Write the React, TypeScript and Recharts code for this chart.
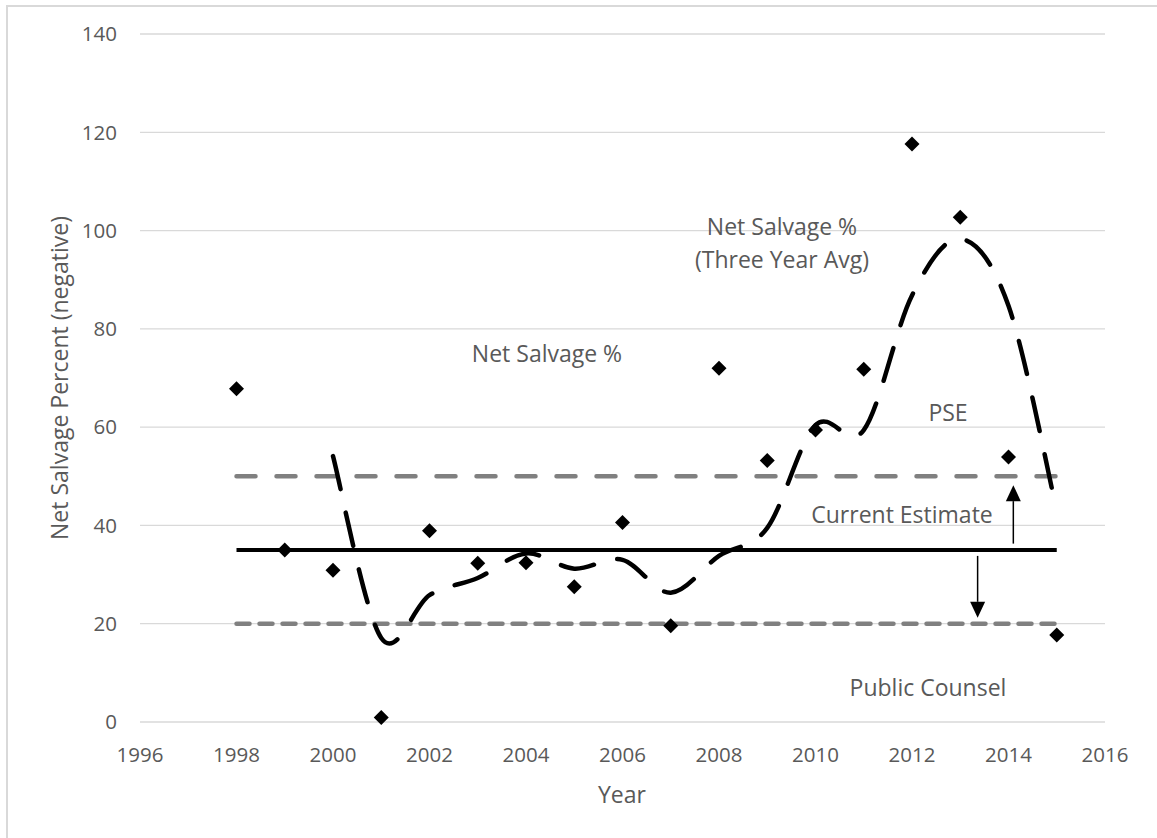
import {
  CartesianGrid,
  ComposedChart,
  Line,
  ReferenceLine,
  Scatter,
  XAxis,
  YAxis,
} from 'recharts'
import type { CSSProperties } from 'react'

// values
const years = [
  1998, 1999, 2000, 2001, 2002, 2003, 2004, 2005, 2006, 2007, 2008, 2009,
  2010, 2011, 2012, 2013, 2014, 2015,
]
const netSalvagePct = [
  67.8, 35.0, 30.9, 0.9, 38.9, 32.3, 32.4, 27.5, 40.6, 19.6, 72.0, 53.2, 59.4,
  71.8, 117.6, 102.7, 53.9, 17.7,
]
const threeYearAvg = [
  null, null, 54.1, 17.1, 25.8, 29.3, 34.3, 31.2, 33.0, 26.3, 33.8, 39.5, 60.4,
  59.4, 86.8, 98.3, 84.7, 43.0,
]
const currentEstimate = 35
const pseEstimate = 50
const publicCounselEstimate = 20

const xTicks = [1996, 1998, 2000, 2002, 2004, 2006, 2008, 2010, 2012, 2014, 2016]
const yTicks = [0, 20, 40, 60, 80, 100, 120, 140]

// arrows from the current estimate towards the two proposals
const arrowToPse = [
  { x: 2014.1, y: 36.3 },
  { x: 2014.1, y: 48.2 },
]
const arrowToPublicCounsel = [
  { x: 2013.36, y: 33.8 },
  { x: 2013.36, y: 21.2 },
]

const rows = years.map((year, i) => ({
  year,
  pct: netSalvagePct[i],
  avg: threeYearAvg[i],
  current: currentEstimate,
  pse: pseEstimate,
  pc: publicCounselEstimate,
}))

const FONT = '"Open Sans", "Noto Sans", sans-serif'
const TEXT = '#595959'
const GRID = '#d9d9d9'

// Excel style smoothed line: Catmull-Rom through every point
function smoothCurve(context: any) {
  let pts: number[][] = []
  return {
    areaStart() {},
    areaEnd() {},
    lineStart() {
      pts = []
    },
    lineEnd() {
      const n = pts.length
      if (!n) return
      context.moveTo(pts[0][0], pts[0][1])
      for (let i = 0; i < n - 1; i++) {
        const p0 = pts[Math.max(i - 1, 0)]
        const p1 = pts[i]
        const p2 = pts[i + 1]
        const p3 = pts[Math.min(i + 2, n - 1)]
        context.bezierCurveTo(
          p1[0] + (p2[0] - p0[0]) / 6,
          p1[1] + (p2[1] - p0[1]) / 6,
          p2[0] - (p3[0] - p1[0]) / 6,
          p2[1] - (p3[1] - p1[1]) / 6,
          p2[0],
          p2[1],
        )
      }
    },
    point(x: number, y: number) {
      pts.push([+x, +y])
    },
  }
}

function Diamond(props: any) {
  const { cx, cy } = props
  if (cx == null || cy == null) return null
  const r = 7.5
  return (
    <polygon
      points={`${cx},${cy - r} ${cx + r},${cy} ${cx},${cy + r} ${cx - r},${cy}`}
      fill="#000"
    />
  )
}

function Arrow(props: any) {
  const { x1, y1, x2, y2 } = props
  const dir = y2 < y1 ? -1 : 1
  const head = 16
  const half = 7.5
  const baseY = y2 - dir * head
  return (
    <g>
      <line x1={x1} y1={y1} x2={x2} y2={baseY} stroke="#000" strokeWidth={1.5} />
      <polygon
        points={`${x2},${y2} ${x2 - half},${baseY} ${x2 + half},${baseY}`}
        fill="#000"
      />
    </g>
  )
}

const note: CSSProperties = {
  position: 'absolute',
  transform: 'translate(-50%, -50%)',
  fontFamily: FONT,
  fontSize: 23,
  color: TEXT,
  whiteSpace: 'nowrap',
  textAlign: 'center',
  lineHeight: '33px',
}

export default function App() {
  return (
    <div
      style={{
        position: 'absolute',
        left: 0,
        top: 0,
        width: 1157,
        height: 838,
        background: '#fff',
        overflow: 'hidden',
      }}
    >
      <div
        style={{
          position: 'absolute',
          left: 6,
          top: 5,
          width: 1151,
          height: 833,
          borderLeft: `2px solid ${GRID}`,
          borderTop: `2px solid ${GRID}`,
          boxSizing: 'border-box',
        }}
      />
      <div style={{ position: 'absolute', left: 0, top: 0 }}>
        <ComposedChart
          width={1157}
          height={838}
          data={rows}
          margin={{ top: 34, right: 52, bottom: 56, left: 60 }}
          style={{ fontFamily: FONT }}
        >
          <CartesianGrid vertical={false} stroke={GRID} strokeWidth={1.3} />
          <XAxis
            dataKey="year"
            type="number"
            domain={[1996, 2016]}
            ticks={xTicks}
            axisLine={false}
            tickLine={false}
            tickSize={0}
            tickMargin={25}
            height={60}
            tick={{ fill: TEXT, fontSize: 20.5, fontFamily: FONT }}
          />
          <YAxis
            type="number"
            domain={[0, 140]}
            ticks={yTicks}
            axisLine={false}
            tickLine={false}
            tickSize={0}
            tickMargin={23}
            width={80}
            tick={{ fill: TEXT, fontSize: 20.5, fontFamily: FONT }}
          />
          <Scatter
            data={rows}
            dataKey="pct"
            shape={Diamond}
            isAnimationActive={false}
          />
          <Line
            dataKey="current"
            stroke="#000"
            strokeWidth={4}
            dot={false}
            activeDot={false}
            isAnimationActive={false}
          />
          <Line
            dataKey="pse"
            stroke="#808080"
            strokeWidth={4.5}
            strokeDasharray="19 21"
            strokeLinecap="round"
            dot={false}
            activeDot={false}
            isAnimationActive={false}
          />
          <Line
            dataKey="pc"
            stroke="#808080"
            strokeWidth={4.5}
            strokeDasharray="13 10"
            strokeLinecap="round"
            dot={false}
            activeDot={false}
            isAnimationActive={false}
          />
          <Line
            dataKey="avg"
            type={smoothCurve as any}
            stroke="#000"
            strokeWidth={4.5}
            strokeDasharray="34 24"
            strokeLinecap="round"
            dot={false}
            activeDot={false}
            connectNulls={false}
            isAnimationActive={false}
          />
          <ReferenceLine segment={arrowToPse} shape={Arrow} />
          <ReferenceLine segment={arrowToPublicCounsel} shape={Arrow} />
        </ComposedChart>
      </div>

      <div style={{ ...note, left: 547, top: 353 }}>Net Salvage %</div>
      <div style={{ ...note, left: 782, top: 243 }}>
        Net Salvage %
        <br />
        (Three Year Avg)
      </div>
      <div style={{ ...note, left: 948, top: 412 }}>PSE</div>
      <div style={{ ...note, left: 902, top: 514 }}>Current Estimate</div>
      <div style={{ ...note, left: 928, top: 687 }}>Public Counsel</div>

      <div style={{ ...note, left: 622, top: 794 }}>Year</div>
      <div
        style={{
          ...note,
          left: 59,
          top: 378,
          transform: 'translate(-50%, -50%) rotate(-90deg)',
        }}
      >
        Net Salvage Percent (negative)
      </div>
    </div>
  )
}
